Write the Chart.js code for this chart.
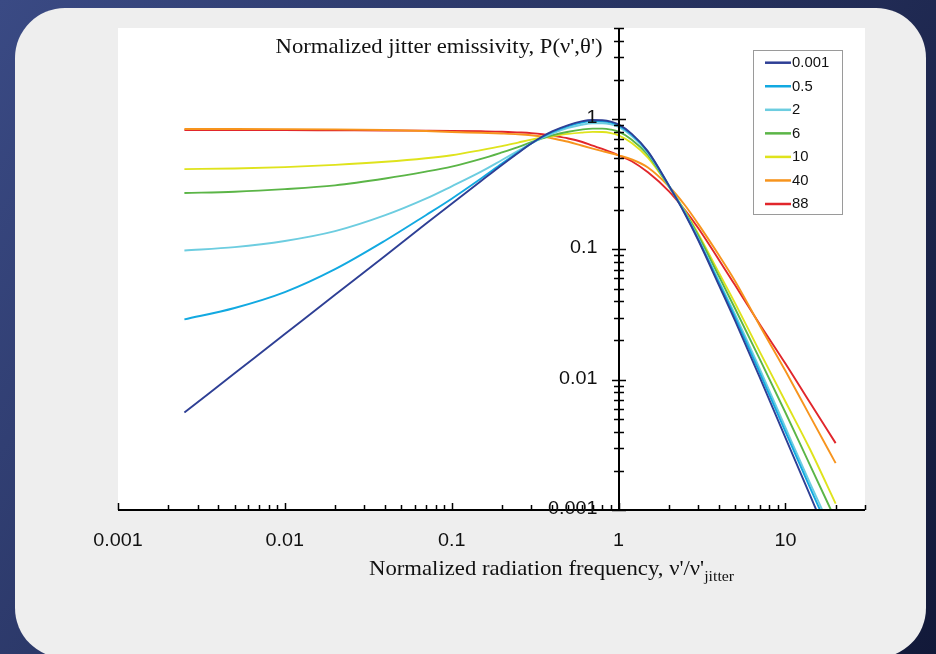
<!DOCTYPE html>
<html>
<head>
<meta charset="utf-8">
<script src="https://cdn.jsdelivr.net/npm/chart.js@4/dist/chart.umd.min.js"></script>
<style>
html,body{margin:0;padding:0;background:#1c2550;}
#wrap{width:936px;height:654px;position:relative;overflow:hidden;}
canvas{display:block;}
</style>
</head>
<body>
<div id="wrap"><canvas id="c" width="936" height="654"></canvas></div>
<script>
// ---------- data ----------
const frequency = [0.0025,0.005,0.01,0.02,0.04,0.07,0.1,0.15,0.2,0.25,0.3,0.35,0.4,0.5,0.6,0.7,0.8,0.9,1,1.2,1.5,2,2.5,3,4,5,7,10,14,20];
const seriesLabels = ['0.001','0.5','2','6','10','40','88'];
const p_0001 = [0.0056,0.0112,0.0224,0.0448,0.0895,0.157,0.224,0.335,0.445,0.55,0.65,0.735,0.805,0.9,0.96,0.985,0.98,0.955,0.91,0.77,0.565,0.31,0.187,0.118,0.053,0.0283,0.0105,0.0036,0.00131,0.00045];
const p_05   = [0.029,0.0355,0.047,0.0705,0.117,0.183,0.245,0.35,0.455,0.555,0.65,0.73,0.795,0.885,0.94,0.965,0.96,0.94,0.895,0.76,0.56,0.31,0.189,0.12,0.0552,0.030,0.0114,0.0040,0.0015,0.00054];
const p_2    = [0.098,0.104,0.116,0.138,0.183,0.245,0.305,0.395,0.485,0.57,0.65,0.72,0.775,0.855,0.905,0.93,0.93,0.91,0.87,0.74,0.55,0.307,0.191,0.122,0.057,0.0315,0.0122,0.0043,0.00162,0.0006];
const p_6    = [0.271,0.277,0.29,0.31,0.35,0.395,0.432,0.495,0.555,0.61,0.665,0.71,0.75,0.8,0.83,0.845,0.845,0.83,0.80,0.695,0.53,0.305,0.194,0.128,0.062,0.035,0.0145,0.0056,0.00223,0.00084];
const p_10   = [0.413,0.418,0.428,0.445,0.47,0.50,0.528,0.578,0.62,0.66,0.695,0.72,0.74,0.77,0.787,0.797,0.795,0.78,0.75,0.655,0.505,0.305,0.197,0.132,0.066,0.0385,0.0165,0.0068,0.00295,0.00112];
const p_40   = [0.84,0.84,0.838,0.834,0.825,0.81,0.795,0.785,0.775,0.765,0.752,0.735,0.712,0.67,0.627,0.594,0.568,0.547,0.527,0.49,0.425,0.305,0.218,0.157,0.09,0.057,0.0262,0.0117,0.0053,0.00229];
const p_88   = [0.822,0.822,0.822,0.82,0.818,0.815,0.812,0.806,0.80,0.79,0.78,0.765,0.745,0.71,0.67,0.625,0.59,0.557,0.527,0.475,0.39,0.28,0.20,0.146,0.083,0.053,0.0268,0.0133,0.0067,0.00326];
const seriesValues = [p_0001,p_05,p_2,p_6,p_10,p_40,p_88];
const xTickLabels = ['0.001','0.01','0.1','1','10'];
const yTickLabels = ['0.001','0.01','0.1','1'];
const xTitle = 'Normalized radiation frequency, \u03bd\'/\u03bd\'';
const xTitleSub = 'jitter';
const yTitle = 'Normalized jitter emissivity, P(\u03bd\',\u03b8\')';

// ---------- styles ----------
const lineColors = ['#2e3f95','#12a9e1','#6dcde0','#5bb547','#dfe31c','#f7941d','#e1262b'];
const SANS = '"Liberation Sans", Arial, sans-serif';
const SERIF = '"Liberation Serif", "Times New Roman", serif';

const datasets = seriesLabels.map((lab, i) => ({
  label: lab,
  data: frequency.map((f, j) => ({x: f, y: seriesValues[i][j]})),
  borderColor: lineColors[i],
  backgroundColor: lineColors[i],
  borderWidth: 1.9,
  pointRadius: 0,
  cubicInterpolationMode: 'monotone',
  fill: false
}));

function txt(ctx, s, x, y, align, sx) {
  ctx.save();
  ctx.translate(x, y);
  ctx.scale(sx, 1);
  ctx.textAlign = align;
  ctx.fillText(s, 0, 0);
  ctx.restore();
}

const backgroundPlugin = {
  id: 'bg',
  beforeDraw(chart) {
    const {ctx, chartArea: a, width, height} = chart;
    ctx.save();
    const g = ctx.createLinearGradient(0, 0, width, height);
    g.addColorStop(0, '#3a4a84');
    g.addColorStop(1, '#121939');
    ctx.fillStyle = g;
    ctx.fillRect(0, 0, width, height);
    const px = 15, py = 8, pw = 911, ph = 650, r = 50;
    ctx.fillStyle = '#eeeeee';
    ctx.beginPath();
    ctx.moveTo(px + r, py);
    ctx.lineTo(px + pw - r, py);
    ctx.arcTo(px + pw, py, px + pw, py + r, r);
    ctx.lineTo(px + pw, py + ph - r);
    ctx.arcTo(px + pw, py + ph, px + pw - r, py + ph, r);
    ctx.lineTo(px + r, py + ph);
    ctx.arcTo(px, py + ph, px, py + ph - r, r);
    ctx.lineTo(px, py + r);
    ctx.arcTo(px, py, px + r, py, r);
    ctx.closePath();
    ctx.fill();
    ctx.fillStyle = '#ffffff';
    ctx.fillRect(a.left, a.top, a.right - a.left, a.bottom - a.top);
    ctx.restore();
  }
};

const axesPlugin = {
  id: 'axes',
  afterDatasetsDraw(chart) {
    const {ctx, chartArea: a, scales: {x, y}} = chart;
    const x1 = Math.round(x.getPixelForValue(1));
    ctx.save();
    ctx.strokeStyle = '#000';
    ctx.lineWidth = 2;
    ctx.beginPath();
    ctx.moveTo(a.left, a.bottom); ctx.lineTo(a.right, a.bottom);
    ctx.moveTo(x1, a.top); ctx.lineTo(x1, a.bottom);
    ctx.stroke();
    ctx.lineWidth = 1.5;
    ctx.beginPath();
    for (let d = -3; d <= 1; d++) {
      for (let m = 1; m <= 9; m++) {
        const v = m * Math.pow(10, d);
        if (v > x.max * 1.0001) break;
        const p = Math.round(x.getPixelForValue(v)) + 0.5;
        const len = m === 1 ? 7 : 5;
        ctx.moveTo(p, a.bottom); ctx.lineTo(p, a.bottom - len);
      }
    }
    for (let d = -3; d <= 0; d++) {
      for (let m = 1; m <= 9; m++) {
        const v = m * Math.pow(10, d);
        if (v > y.max * 1.0001) break;
        const p = Math.round(y.getPixelForValue(v)) + 0.5;
        const len = m === 1 ? 7 : 5;
        ctx.moveTo(x1 - len, p); ctx.lineTo(x1 + len, p);
      }
    }
    ctx.stroke();
    ctx.restore();
  },
  afterDraw(chart) {
    const {ctx, chartArea: a, scales: {x, y}} = chart;
    const x1 = x.getPixelForValue(1);
    ctx.save();
    ctx.fillStyle = '#111';
    ctx.font = '18px ' + SANS;
    ctx.textBaseline = 'middle';
    xTickLabels.forEach(t => txt(ctx, t, x.getPixelForValue(parseFloat(t)), a.bottom + 31, 'center', 1.1));
    yTickLabels.forEach(t => txt(ctx, t, x1 - 21, y.getPixelForValue(parseFloat(t)) - 1, 'right', 1.1));
    // titles
    ctx.font = '21.5px ' + SERIF;
    ctx.textBaseline = 'alphabetic';
    txt(ctx, yTitle, x1 - 16, 53, 'right', 1.055);
    const tx = 369;
    txt(ctx, xTitle, tx, 575, 'left', 1.057);
    const w = ctx.measureText(xTitle).width * 1.057;
    ctx.font = '15px ' + SERIF;
    txt(ctx, xTitleSub, tx + w, 581, 'left', 1.057);
    // legend
    const lx = 753.5, ly = 50.5, lw = 89, lh = 164;
    ctx.fillStyle = '#fff';
    ctx.fillRect(lx, ly, lw, lh);
    ctx.strokeStyle = '#9a9a9a';
    ctx.lineWidth = 1;
    ctx.strokeRect(lx, ly, lw, lh);
    ctx.font = '14px ' + SANS;
    ctx.textBaseline = 'middle';
    chart.data.datasets.forEach((ds, i) => {
      const cy = 62.7 + i * 23.55;
      ctx.strokeStyle = ds.borderColor;
      ctx.lineWidth = 2.5;
      ctx.beginPath(); ctx.moveTo(765, cy); ctx.lineTo(791, cy); ctx.stroke();
      ctx.fillStyle = '#111';
      txt(ctx, ds.label, 792, cy + 0.5, 'left', 1.06);
    });
    ctx.restore();
  }
};

new Chart(document.getElementById('c'), {
  type: 'line',
  data: {datasets},
  options: {
    responsive: false,
    devicePixelRatio: 1,
    animation: false,
    layout: {padding: {left: 118, right: 71, top: 28, bottom: 144}},
    plugins: {legend: {display: false}, tooltip: {enabled: false}},
    scales: {
      x: {type: 'logarithmic', min: 0.001, max: 30, display: false},
      y: {type: 'logarithmic', min: 0.001, max: 5, display: false}
    }
  },
  plugins: [backgroundPlugin, axesPlugin]
});
</script>
</body>
</html>
